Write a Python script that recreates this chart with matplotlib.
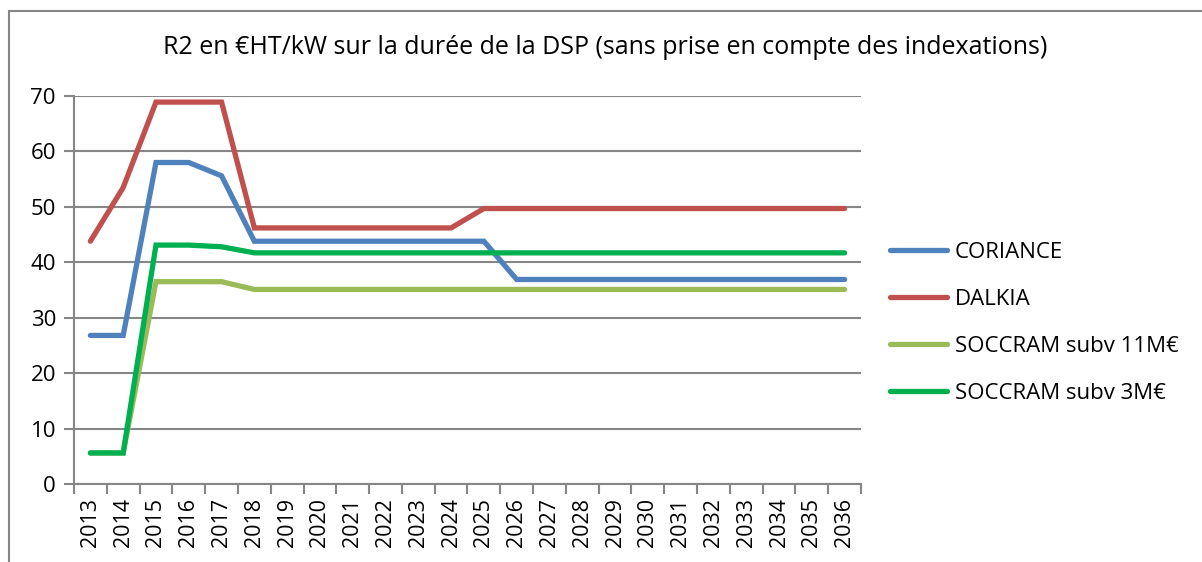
import matplotlib
matplotlib.use("Agg")
import matplotlib.pyplot as plt
from matplotlib.patches import Rectangle
import numpy as np

years = [str(y) for y in range(2013, 2037)]
coriance = [26.8, 26.8, 58.0, 58.0, 55.6] + [43.8] * 8 + [36.9] * 11
dalkia = [43.8, 53.5, 68.9, 68.9, 68.9] + [46.2] * 7 + [49.7] * 12
soccram_11 = [5.6, 5.6, 36.5, 36.5, 36.5] + [35.1] * 19
soccram_3 = [5.6, 5.6, 43.1, 43.1, 42.8] + [41.7] * 19

series = [
    ("CORIANCE", coriance, "#4F81BD"),
    ("DALKIA", dalkia, "#C0504D"),
    ("SOCCRAM subv 11M€", soccram_11, "#9BBB59"),
    ("SOCCRAM subv 3M€", soccram_3, "#00B050"),
]

plt.rcParams["font.family"] = ["Open Sans", "DejaVu Sans"]
grid_color = "#868686"

fig = plt.figure(figsize=(12.02, 5.62), dpi=100)
ax = fig.add_axes([74 / 1202, 1 - 484 / 562, (861 - 74) / 1202, (484 - 96) / 562])

# chart frame (cut off at right and bottom like the source)
fig.patches.append(Rectangle((9 / 1202, -0.1), 1.2, 1 - 11 / 562 + 0.1,
                             transform=fig.transFigure, fill=False,
                             edgecolor=grid_color, linewidth=1.5))

x = np.arange(len(years))
for name, vals, color in series:
    ax.plot(x, vals, color=color, linewidth=3.8, label=name,
            solid_capstyle="round", solid_joinstyle="miter")

ax.set_xlim(-0.5, len(years) - 0.5)
ax.set_ylim(0, 70)
ax.set_yticks(range(0, 71, 10))
ax.yaxis.grid(True, color=grid_color, linewidth=1.5)
ax.set_axisbelow(True)

ax.set_xticks(x)
ax.set_xticklabels(years, rotation=90, fontsize=15.5)
ax.set_xticks(np.arange(-0.5, len(years)), minor=True)
ax.tick_params(axis="x", which="major", length=0, pad=10)
ax.tick_params(axis="x", which="minor", length=7, width=1.5, color=grid_color)
ax.tick_params(axis="y", length=7, width=1.5, color=grid_color, labelsize=16, pad=6)

for side in ["top", "right"]:
    ax.spines[side].set_visible(False)
for side in ["left", "bottom"]:
    ax.spines[side].set_color(grid_color)
    ax.spines[side].set_linewidth(1.5)

fig.text(605 / 1202, 1 - 47 / 562,
         "R2 en €HT/kW sur la durée de la DSP (sans prise en compte des indexations)",
         ha="center", va="center", fontsize=18)

ax.legend(loc="upper left", bbox_to_anchor=(890 / 1202, 1 - 242 / 562),
          bbox_transform=fig.transFigure, frameon=False, fontsize=16,
          handlelength=2.55, handletextpad=0.36, labelspacing=1.17,
          borderaxespad=0, borderpad=0)

fig.savefig("out.png", dpi=100)
